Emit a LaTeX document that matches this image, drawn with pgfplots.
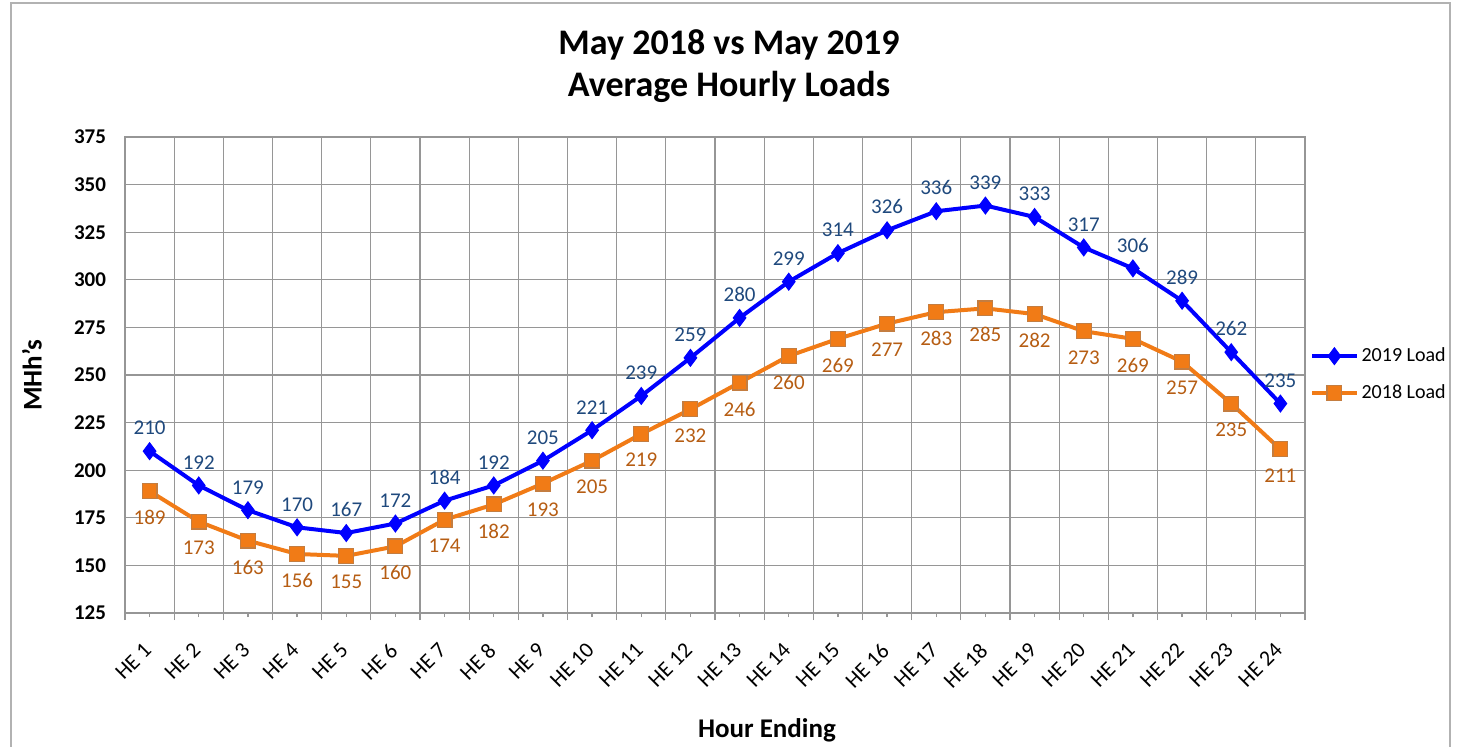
\documentclass[border=0pt]{standalone}
\usepackage{pgfplots}
\pgfplotsset{compat=1.18}
\usepackage{fontspec}
\setmainfont{Carlito}

\definecolor{load19}{RGB}{0,0,255}
\definecolor{load18}{RGB}{241,123,22}
\definecolor{lab19}{RGB}{31,73,125}
\definecolor{lab18}{RGB}{182,93,19}
\definecolor{gridgray}{RGB}{150,150,150}

\begin{document}
\begin{tikzpicture}
\useasboundingbox (-62.5pt,-66.5pt) rectangle (666.5pt,306.5pt);
\draw[gray!60, line width=0.8pt] (-57pt,-70pt) -- (-57pt,305pt) -- (662.5pt,305pt) -- (662.5pt,-70pt);
\node[font=\bfseries\fontsize{18}{21}\selectfont] at (302pt,284pt) {May 2018 vs May 2019};
\node[font=\bfseries\fontsize{18}{21}\selectfont] at (302pt,263pt) {Average Hourly Loads};

\begin{axis}[
    at={(0,0)}, anchor=south west,
    scale only axis,
    width=590pt, height=238pt,
    xmin=0.5, xmax=24.5,
    ymin=125, ymax=375,
    xtick={1,...,24},
    xticklabels={HE 1,HE 2,HE 3,HE 4,HE 5,HE 6,HE 7,HE 8,HE 9,HE 10,HE 11,HE 12,HE 13,HE 14,HE 15,HE 16,HE 17,HE 18,HE 19,HE 20,HE 21,HE 22,HE 23,HE 24},
    minor xtick={0.5,1.5,...,24.5},
    ytick={125,150,...,375},
    xminorgrids=true,
    ymajorgrids=true,
    grid style={gridgray, line width=0.6pt},
    minor grid style={gridgray, line width=0.6pt},
    axis line style={gridgray, line width=0.6pt},
    xtick pos=bottom,
    ytick style={draw=none},
    major x tick style={gridgray, line width=0.6pt},
    minor x tick style={gridgray, line width=0.6pt},
    tick align=outside,
    major tick length=2pt,
    minor tick length=3.5pt,
    /pgf/number format/assume math mode=true,
    yticklabel style={font=\bfseries\fontsize{10.5}{12}\selectfont, xshift=-4pt},
    xticklabel style={font=\fontsize{11}{13}\selectfont, xshift=-3.5pt, yshift=-7.5pt, rotate=45, anchor=north east},
    ylabel={MHh's},
    ylabel style={font=\bfseries\fontsize{13.5}{15}\selectfont, at={(axis description cs:-0.079,0.5)}, anchor=center},
    xlabel={Hour Ending},
    xlabel style={font=\bfseries\fontsize{13.5}{15}\selectfont, at={(axis description cs:0.544,-0.246)}, anchor=center},
    legend style={at={(axis description cs:0.999,0.575)}, anchor=north west, draw=none, fill=none,
        font=\fontsize{10}{12}\selectfont, row sep=6pt, nodes={inner xsep=1.5pt}},
    legend cell align=left,
    legend image code/.code={
        \draw[#1, mark repeat=2, mark phase=2] plot coordinates {(0cm,0cm) (0.39cm,0cm) (0.78cm,0cm)};
    },
    nodes near coords,
    point meta=explicit,
    clip=false,
]
\addplot[load19, line width=2pt, mark=diamond*, mark size=4.2pt,
    mark options={fill=load19, draw=load19, line width=0.5pt},
    every node near coord/.append style={font=\fontsize{10.5}{12}\selectfont, text=lab19, anchor=south, yshift=4.5pt},
    nodes near coords={\pgfmathprintnumber[precision=0]{\pgfplotspointmeta}}]
    table[x=h, y=v, meta=v] {
h v
1 210
2 192
3 179
4 170
5 167
6 172
7 184
8 192
9 205
10 221
11 239
12 259
13 280
14 299
15 314
16 326
17 336
18 339
19 333
20 317
21 306
22 289
23 262
24 235
};
\addlegendentry{2019 Load}
\addplot[load18, line width=2pt, mark=square*, mark size=3.7pt,
    mark options={fill=load18, draw=gray!40!load18, line width=0.6pt},
    every node near coord/.append style={font=\fontsize{10.5}{12}\selectfont, text=lab18, anchor=north, yshift=-6pt},
    nodes near coords={\pgfmathprintnumber[precision=0]{\pgfplotspointmeta}}]
    table[x=h, y=v, meta=v] {
h v
1 189
2 173
3 163
4 156
5 155
6 160
7 174
8 182
9 193
10 205
11 219
12 232
13 246
14 260
15 269
16 277
17 283
18 285
19 282
20 273
21 269
22 257
23 235
24 211
};
\addlegendentry{2018 Load}
\end{axis}
\end{tikzpicture}
\end{document}
